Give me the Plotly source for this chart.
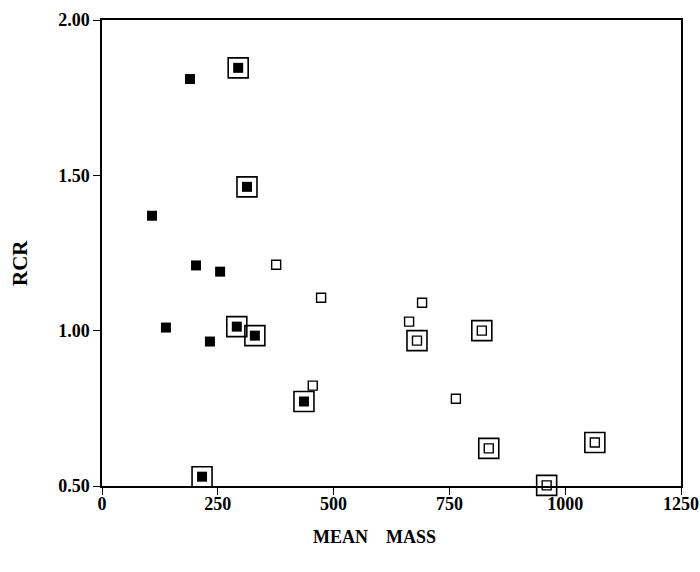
import plotly.graph_objects as go

# Filled squares (plain)
filled_x = [190, 108, 203, 255, 138, 233]
filled_y = [1.81, 1.37, 1.21, 1.19, 1.01, 0.965]

# Filled squares enclosed by a larger open square
filled_ring_x = [294, 313, 291, 330, 436, 216]
filled_ring_y = [1.846, 1.463, 1.013, 0.984, 0.772, 0.530]

# Open squares (plain)
open_x = [376, 473, 691, 663, 764, 455]
open_y = [1.212, 1.106, 1.09, 1.029, 0.781, 0.823]

# Open squares enclosed by a larger open square
open_ring_x = [680, 820, 835, 1064, 960]
open_ring_y = [0.968, 1.0, 0.621, 0.640, 0.502]

x_ticks = [0, 250, 500, 750, 1000, 1250]
y_ticks = [0.50, 1.00, 1.50, 2.00]

FONT = "Liberation Serif"
fig = go.Figure()

fig.add_trace(go.Scatter(
    x=filled_ring_x + open_ring_x, y=filled_ring_y + open_ring_y, mode="markers",
    marker=dict(symbol="square-open", size=20, color="black", line=dict(width=1.6, color="black")),
    showlegend=False, cliponaxis=False))
fig.add_trace(go.Scatter(
    x=filled_x + filled_ring_x, y=filled_y + filled_ring_y, mode="markers",
    marker=dict(symbol="square", size=10, color="black", line=dict(width=0)),
    showlegend=False, cliponaxis=False))
fig.add_trace(go.Scatter(
    x=open_x + open_ring_x, y=open_y + open_ring_y, mode="markers",
    marker=dict(symbol="square-open", size=9, color="black", line=dict(width=1.4, color="black")),
    showlegend=False, cliponaxis=False))

axis_common = dict(showgrid=False, zeroline=False, showline=True, linecolor="black",
                   linewidth=1.5, mirror=True, ticks="outside", ticklen=7, tickwidth=1.3,
                   tickcolor="black", automargin=False,
                   tickfont=dict(family=FONT, size=18, color="black", weight="bold"))

fig.update_layout(
    width=700, height=572,
    margin=dict(l=102, r=19, t=20, b=86),
    plot_bgcolor="white", paper_bgcolor="white",
    xaxis=dict(range=[0, 1250], tickvals=x_ticks, ticktext=[str(v) for v in x_ticks],
               ticklabelstandoff=-6, **axis_common),
    yaxis=dict(range=[0.5, 2.0], tickvals=y_ticks, ticktext=[f"{v:.2f}" for v in y_ticks], **axis_common),
    annotations=[
        dict(text="MEAN\u00a0\u00a0\u00a0\u00a0MASS", xref="paper", yref="paper", x=0.4715, y=0,
             yshift=-51, xanchor="center", yanchor="middle", showarrow=False,
             font=dict(family=FONT, size=18, color="black", weight="bold")),
        dict(text="RCR", xref="paper", yref="paper", x=0, xshift=-82, y=0.4785,
             xanchor="center", yanchor="middle", textangle=-90, showarrow=False,
             font=dict(family=FONT, size=21, color="black", weight="bold")),
    ],
)

fig.write_html("out.html")
